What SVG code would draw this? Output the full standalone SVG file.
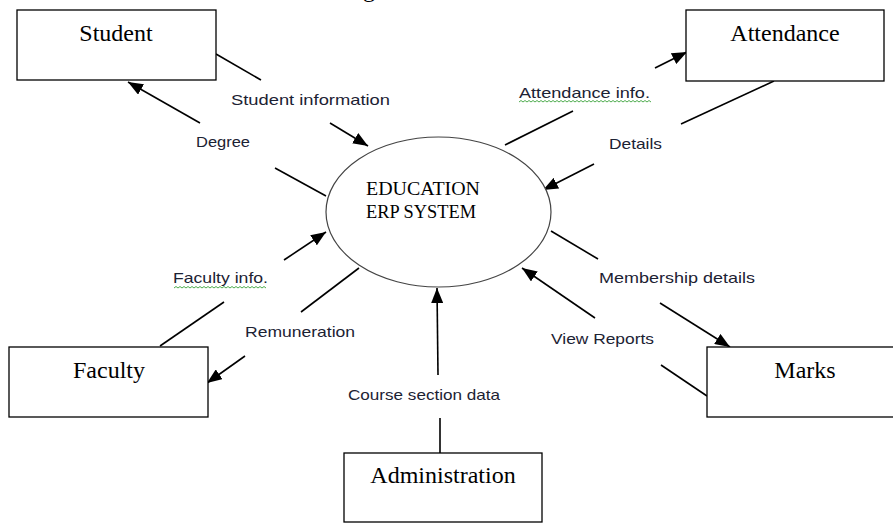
<svg xmlns="http://www.w3.org/2000/svg" width="893" height="523" viewBox="0 0 893 523">
<style>
.box{fill:#fff;stroke:#000;stroke-width:1.3}
.ell{fill:#fff;stroke:#444;stroke-width:1.2}
.ent{font-family:"Liberation Serif","Times New Roman",serif;font-size:24px;fill:#000;text-anchor:middle}
.sys{font-family:"Liberation Serif","Times New Roman",serif;font-size:18.5px;fill:#000}
.lbl{font-family:"Liberation Sans",Arial,sans-serif;font-size:15px;fill:#1c2233}
.ln{stroke:#000;stroke-width:1.6;fill:none}
.arr{stroke:#000;stroke-width:1.6;fill:none;marker-end:url(#ah)}
.wavy{stroke:#3aa33a;stroke-width:0.9;fill:none}
</style>
<defs>
<marker id="ah" markerUnits="userSpaceOnUse" markerWidth="16" markerHeight="12" refX="15" refY="6" orient="auto">
<path d="M0,0 L15,6 L0,12 Z" fill="#000"/>
</marker>
</defs>
<rect width="893" height="523" fill="#fff"/>
<text x="369" y="-3" class="ent">g</text>

<g id="connectors">
<line class="ln" x1="216" y1="54" x2="261" y2="80"/>
<line class="arr" x1="330" y1="123" x2="368" y2="146"/>
<line class="arr" x1="200" y1="123" x2="128" y2="82"/>
<line class="ln" x1="275" y1="168" x2="326" y2="196"/>
<line class="arr" x1="284" y1="260" x2="326" y2="232"/>
<line class="ln" x1="224" y1="302" x2="160" y2="346"/>
<line class="ln" x1="359" y1="268" x2="301" y2="312"/>
<line class="arr" x1="245" y1="356" x2="207" y2="383"/>
<line class="arr" x1="438" y1="375" x2="437" y2="288"/>
<line class="ln" x1="440" y1="418" x2="440" y2="453"/>
<line class="ln" x1="505" y1="145" x2="573" y2="111"/>
<line class="arr" x1="655" y1="68" x2="687" y2="52"/>
<line class="ln" x1="774" y1="81" x2="681" y2="124"/>
<line class="arr" x1="594" y1="164" x2="543" y2="190"/>
<line class="ln" x1="551" y1="231" x2="598" y2="259"/>
<line class="arr" x1="660" y1="303" x2="730" y2="347"/>
<line class="arr" x1="595" y1="318" x2="522" y2="268"/>
<line class="ln" x1="661" y1="365" x2="707" y2="396"/>
</g>

<g id="labels">
<text class="lbl" x="231" y="105" textLength="159" lengthAdjust="spacingAndGlyphs">Student information</text>
<text class="lbl" x="196" y="147" textLength="54" lengthAdjust="spacingAndGlyphs">Degree</text>
<text class="lbl" x="519" y="98" textLength="131" lengthAdjust="spacingAndGlyphs">Attendance info.</text>
<path class="wavy" d="M519,102 l2,-1.5 l2,1.5 l2,-1.5 l2,1.5 l2,-1.5 l2,1.5 l2,-1.5 l2,1.5 l2,-1.5 l2,1.5 l2,-1.5 l2,1.5 l2,-1.5 l2,1.5 l2,-1.5 l2,1.5 l2,-1.5 l2,1.5 l2,-1.5 l2,1.5 l2,-1.5 l2,1.5 l2,-1.5 l2,1.5 l2,-1.5 l2,1.5 l2,-1.5 l2,1.5 l2,-1.5 l2,1.5 l2,-1.5 l2,1.5 l2,-1.5 l2,1.5 l2,-1.5 l2,1.5 l2,-1.5 l2,1.5 l2,-1.5 l2,1.5 l2,-1.5 l2,1.5 l2,-1.5 l2,1.5 l2,-1.5 l2,1.5 l2,-1.5 l2,1.5 l2,-1.5 l2,1.5 l2,-1.5 l2,1.5 l2,-1.5 l2,1.5 l2,-1.5 l2,1.5 l2,-1.5 l2,1.5 l2,-1.5 l2,1.5 l2,-1.5 l2,1.5 l2,-1.5 l2,1.5 l2,-1.5 l2,1.5"/>
<text class="lbl" x="609" y="149" textLength="53" lengthAdjust="spacingAndGlyphs">Details</text>
<text class="lbl" x="173" y="283" textLength="95" lengthAdjust="spacingAndGlyphs">Faculty info.</text>
<path class="wavy" d="M174,288 l2,-1.5 l2,1.5 l2,-1.5 l2,1.5 l2,-1.5 l2,1.5 l2,-1.5 l2,1.5 l2,-1.5 l2,1.5 l2,-1.5 l2,1.5 l2,-1.5 l2,1.5 l2,-1.5 l2,1.5 l2,-1.5 l2,1.5 l2,-1.5 l2,1.5 l2,-1.5 l2,1.5 l2,-1.5 l2,1.5 l2,-1.5 l2,1.5 l2,-1.5 l2,1.5 l2,-1.5 l2,1.5 l2,-1.5 l2,1.5 l2,-1.5 l2,1.5 l2,-1.5 l2,1.5 l2,-1.5 l2,1.5 l2,-1.5 l2,1.5 l2,-1.5 l2,1.5 l2,-1.5 l2,1.5 l2,-1.5 l2,1.5"/>
<text class="lbl" x="245" y="337" textLength="110" lengthAdjust="spacingAndGlyphs">Remuneration</text>
<text class="lbl" x="348" y="400" textLength="152" lengthAdjust="spacingAndGlyphs">Course section data</text>
<text class="lbl" x="599" y="283" textLength="156" lengthAdjust="spacingAndGlyphs">Membership details</text>
<text class="lbl" x="551" y="344" textLength="103" lengthAdjust="spacingAndGlyphs">View Reports</text>
</g>

<g id="system">
<ellipse class="ell" cx="438.5" cy="212" rx="112.5" ry="75"/>
<text class="sys" x="366" y="195" textLength="114" lengthAdjust="spacingAndGlyphs">EDUCATION</text>
<text class="sys" x="366" y="218" textLength="110" lengthAdjust="spacingAndGlyphs">ERP SYSTEM</text>
</g>

<g id="student">
<rect class="box" x="17" y="10" width="199" height="70"/>
<text class="ent" x="116" y="41">Student</text>
</g>
<g id="attendance">
<rect class="box" x="686" y="10" width="198" height="71"/>
<text class="ent" x="785" y="41">Attendance</text>
</g>
<g id="faculty">
<rect class="box" x="9" y="347" width="199" height="70"/>
<text class="ent" x="109" y="378">Faculty</text>
</g>
<g id="marks">
<rect class="box" x="707" y="347" width="199" height="70"/>
<text class="ent" x="805" y="378">Marks</text>
</g>
<g id="administration">
<rect class="box" x="344" y="453" width="198" height="69"/>
<text class="ent" x="443" y="483">Administration</text>
</g>
</svg>
